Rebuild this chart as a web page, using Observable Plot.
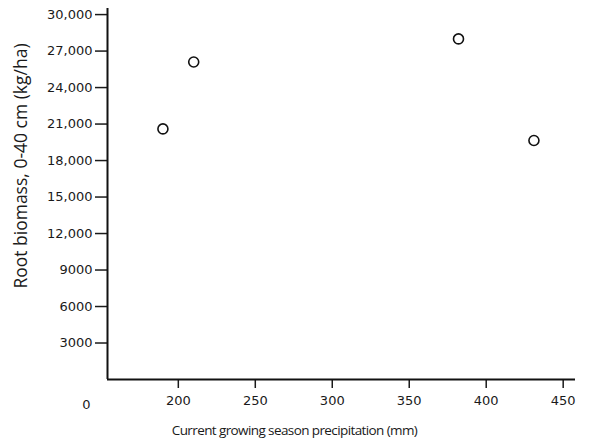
<!DOCTYPE html>
<html>
<head>
<meta charset="utf-8">
<script src="https://cdn.jsdelivr.net/npm/d3@7"></script>
<script src="https://cdn.jsdelivr.net/npm/@observablehq/plot@0.6"></script>
<style>
  html, body { margin: 0; padding: 0; background: #fff; }
  #chart svg { display: block; }
</style>
</head>
<body>
<div id="chart"></div>
<script>
// Data
const precipitation = [190, 210, 382, 431];          // mm
const rootBiomass = [20600, 26100, 28000, 19650];     // kg/ha
const xTicks = [200, 250, 300, 350, 400, 450];
const yTicks = [3000, 6000, 9000, 12000, 15000, 18000, 21000, 24000, 27000, 30000];
const xLabel = "Current growing season precipitation (mm)";
const yLabel = "Root biomass, 0-40 cm (kg/ha)";
const originLabel = "0";

const points = precipitation.map((p, i) => ({precip: p, biomass: rootBiomass[i]}));
const fmtY = d => d >= 10000 ? d3.format(",")(d) : String(d);
const xMin = 154, xMax = 458;
const ink = "#1a1a1a";
const tickFont = "'DejaVu Sans', sans-serif";
const labelFont = "'Open Sans', sans-serif";

const chart = Plot.plot({
  width: 589,
  height: 444,
  marginLeft: 107,
  marginRight: 14,
  marginTop: 8,
  marginBottom: 65,
  style: {fontFamily: tickFont, fontSize: "13px", color: ink, background: "#fff"},
  x: {domain: [xMin, xMax]},
  y: {domain: [0, 30500]},
  marks: [
    Plot.axisX({ticks: xTicks, tickSize: 9, tickPadding: 7, fontSize: 13, label: null, strokeWidth: 1.5}),
    Plot.axisY({ticks: yTicks, tickSize: 12, tickPadding: 3, fontSize: 13, tickFormat: fmtY, label: null, strokeWidth: 1.5}),
    Plot.ruleY([0], {stroke: "#111", strokeWidth: 2}),
    Plot.ruleX([xMin], {stroke: "#111", strokeWidth: 2}),
    Plot.text([originLabel], {frameAnchor: "bottom-left", dx: -21, dy: 25, textAnchor: "middle", lineAnchor: "middle", fontSize: 13, fill: ink}),
    Plot.text([xLabel], {frameAnchor: "bottom", dx: -47, dy: 51, textAnchor: "middle", lineAnchor: "middle",
      fontSize: 13.5, fontFamily: labelFont, fill: ink}),
    Plot.text([yLabel], {frameAnchor: "left", dx: -86, dy: -28, rotate: -90, textAnchor: "middle", lineAnchor: "middle",
      fontSize: 17.5, fontFamily: labelFont, fill: ink}),
    Plot.dot(points, {x: "precip", y: "biomass", r: 5, stroke: "#111", strokeWidth: 1.6, fill: "white"})
  ]
});
// tighten the x title's letter spacing to match the condensed look of the original
chart.querySelectorAll("text").forEach(t => {
  if (t.textContent === xLabel) t.style.letterSpacing = "-0.6px";
});
document.getElementById("chart").appendChild(chart);
</script>
</body>
</html>
